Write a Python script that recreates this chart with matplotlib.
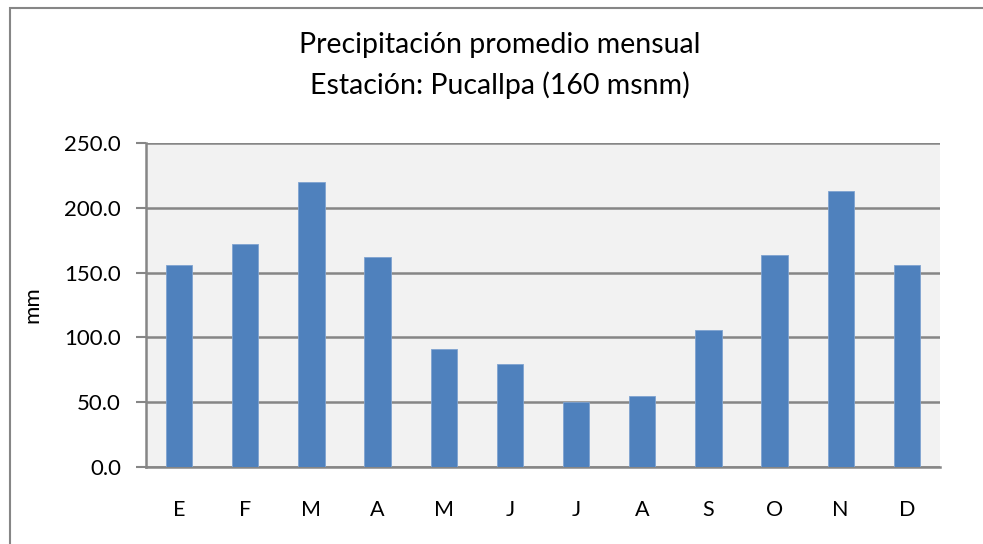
import matplotlib.pyplot as plt
from matplotlib.patches import Rectangle

plt.rcParams['font.family'] = ['Lato', 'DejaVu Sans']

# datos de precipitación mensual (mm)
meses = ['E', 'F', 'M', 'A', 'M', 'J', 'J', 'A', 'S', 'O', 'N', 'D']
precipitacion = [156.2, 172.2, 220.1, 162.2, 90.7, 79.1, 50.0, 54.4, 105.4, 163.4, 212.9, 156.2]
yticks = [0, 50, 100, 150, 200, 250]

fig = plt.figure(figsize=(9.83, 5.44), dpi=100)
ax = fig.add_axes([146 / 983, 1 - 467 / 544, (940 - 146) / 983, (467 - 143) / 544])

x = range(len(meses))
ax.bar(x, precipitacion, width=0.4, color='#4F81BD', edgecolor='#7FA3D0', linewidth=0.6, zorder=3)

ax.set_facecolor('#F2F2F2')
ax.set_xlim(-0.5, len(meses) - 0.5)
ax.set_ylim(0, 250)
ax.set_yticks(yticks)
ax.set_yticklabels(['%.1f' % v for v in yticks], fontsize=16)
ax.set_xticks(list(x))
ax.set_xticklabels(meses, fontsize=15.5)
ax.tick_params(axis='x', length=0, pad=24)
ax.tick_params(axis='y', length=7, width=1.5, color='#868686', pad=11)
ax.yaxis.grid(True, color='#868686', linewidth=1.8, zorder=1)
for s in ['top', 'right']:
    ax.spines[s].set_visible(False)
for s in ['left', 'bottom']:
    ax.spines[s].set_color('#868686')
    ax.spines[s].set_linewidth(1.8)
ax.set_ylabel('mm', fontsize=16, labelpad=16)

fig.text(500 / 983, 1 - 45 / 544, 'Precipitación promedio mensual', ha='center', va='center', fontsize=20.5)
fig.text(500 / 983, 1 - 85 / 544, 'Estación: Pucallpa (160 msnm)', ha='center', va='center', fontsize=20.5)

# borde del gráfico
fig.patches.append(Rectangle((10 / 983, -0.1), 1.2, 1 - 8 / 544 + 0.1, transform=fig.transFigure,
                             fill=False, edgecolor='#868686', linewidth=1.5))

fig.savefig('out.png', dpi=100)
